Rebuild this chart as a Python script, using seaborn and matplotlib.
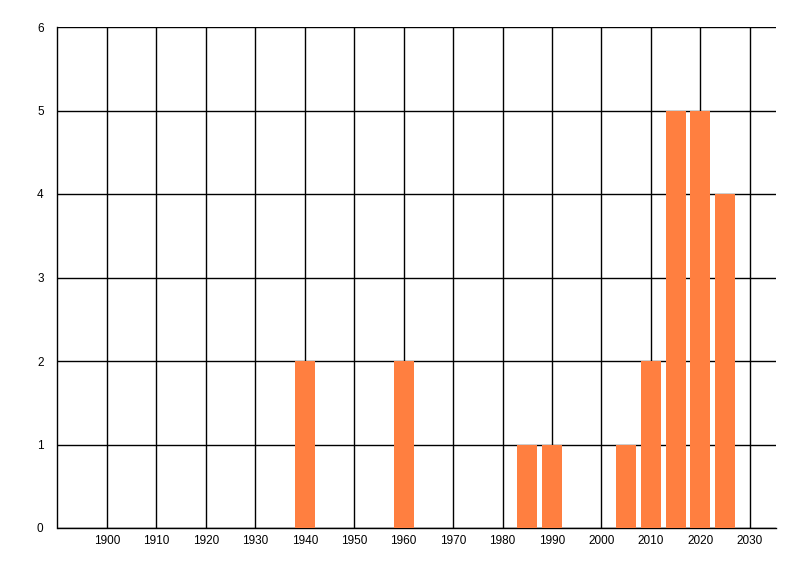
import matplotlib
matplotlib.use("Agg")
import matplotlib.pyplot as plt
import seaborn as sns

# Data
years = [1940, 1960, 1985, 1990, 2005, 2010, 2015, 2020, 2025]
counts = [2, 2, 1, 1, 1, 2, 5, 5, 4]
x_ticks = list(range(1900, 2031, 10))
y_ticks = list(range(0, 7))

sns.set_style("white")
plt.rcParams['font.family'] = ['Liberation Sans', 'DejaVu Sans']

fig = plt.figure(figsize=(8, 5.76), dpi=100)
ax = fig.add_axes([57.5 / 800, 1 - 528 / 576, (776 - 57.5) / 800, (528 - 27) / 576])

sns.barplot(x=years, y=counts, native_scale=True, width=0.8, color="#FF7F40",
            saturation=1, linewidth=0, edgecolor="none", ax=ax, zorder=3)

ax.set_xlim(1890, 2035.3)
ax.set_ylim(0, 6)
ax.set_xticks(x_ticks)
ax.set_yticks(y_ticks)
ax.grid(True, color="black", linewidth=1.0, zorder=0)
ax.set_axisbelow(True)

for side in ["top", "right"]:
    ax.spines[side].set_visible(False)
for side in ["left", "bottom"]:
    ax.spines[side].set_color("black")
    ax.spines[side].set_linewidth(1.0)

ax.tick_params(axis="y", length=8, width=1.0, color="black", labelcolor="black",
               labelsize=8.5, pad=2)
ax.tick_params(axis="x", length=3, width=1.0, color="black", labelcolor="black",
               labelsize=8.5, pad=2)
ax.set_xlabel("")
ax.set_ylabel("")

fig.savefig("out.png", dpi=100)
